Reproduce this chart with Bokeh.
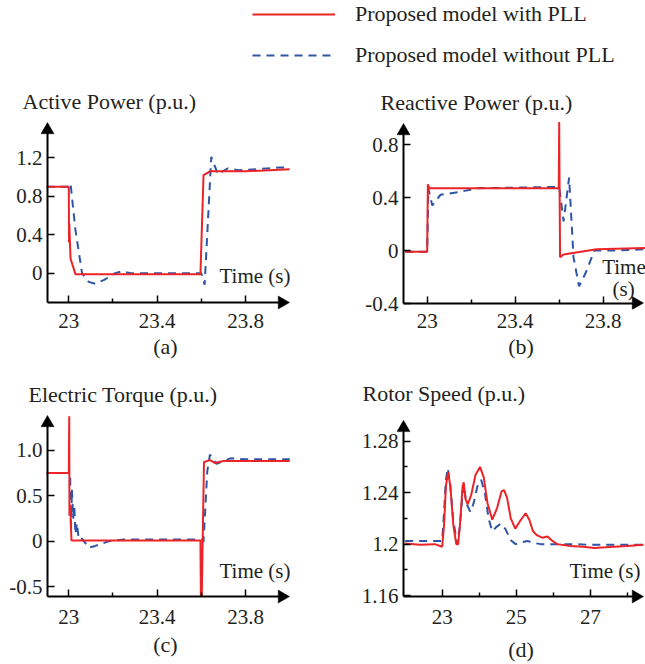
import math
from bokeh.plotting import figure
from bokeh.layouts import column, row
from bokeh.models import FixedTicker, Label, Legend, LegendItem, Range1d, LinearAxis
from bokeh.embed import file_html
from bokeh.resources import INLINE

RED = "#ec2327"
BLUE = "#2f56a6"
INK = "#231f20"
FONT = "Liberation Serif"

legend_labels = ["Proposed model with PLL", "Proposed model without PLL"]
captions = ["(a)", "(b)", "(c)", "(d)"]
titles = ["Active Power (p.u.)", "Reactive Power (p.u.)", "Electric Torque (p.u.)", "Rotor Speed (p.u.)"]

# ---------------- (a) Active power ----------------
a_t_pll = [22.9, 23.0, 23.001, 23.002, 23.008, 23.03, 23.596, 23.61, 23.64, 23.8, 24.0]
a_v_pll = [0.9, 0.9, 0.32, 0.52, 0.15, -0.01, -0.01, 1.02, 1.06, 1.06, 1.08]
a_t_nopll = [22.9, 23.005, 23.008, 23.03, 23.06, 23.09, 23.12, 23.16, 23.21, 23.24, 23.28,
             23.6, 23.615, 23.645, 23.675, 23.72, 23.77, 23.85, 23.95, 24.0]
a_v_nopll = [0.9, 0.9, 0.93, 0.45, 0.0, -0.09, -0.11, -0.07, 0.0, 0.02, 0.0,
             0.0, -0.12, 1.21, 1.03, 1.09, 1.07, 1.08, 1.1, 1.1]

# ---------------- (b) Reactive power ----------------
b_t_pll = [22.9, 23.0, 23.003, 23.01, 23.598, 23.6, 23.601, 23.604, 23.62, 23.77, 24.0]
b_v_pll = [-0.01, -0.01, 0.5, 0.47, 0.47, 0.97, 0.65, -0.05, -0.03, 0.01, 0.02]
b_t_nopll = [22.9, 23.0, 23.005, 23.023, 23.06, 23.14, 23.23, 23.6, 23.62, 23.645,
             23.665, 23.69, 23.72, 23.76, 23.85, 24.0]
b_v_nopll = [-0.01, -0.01, 0.47, 0.34, 0.42, 0.44, 0.47, 0.48, 0.22, 0.55,
             -0.05, -0.27, -0.17, 0.0, 0.0, 0.01]

# ---------------- (c) Electric torque ----------------
c_t_pll = [22.9, 23.0, 23.002, 23.003, 23.005, 23.008, 23.012, 23.596, 23.598, 23.602,
           23.612, 23.64, 23.66, 23.7, 24.0]
c_v_pll = [0.75, 0.75, 1.37, 0.28, 0.4, 0.3, 0.01, 0.01, -0.6, -0.6,
           0.87, 0.89, 0.86, 0.88, 0.88]
c_t_nopll = [22.9, 23.006, 23.01, 23.014, 23.02, 23.025, 23.03, 23.037, 23.045, 23.06,
             23.09, 23.12, 23.18, 23.25, 23.6, 23.61, 23.627, 23.639, 23.669, 23.732, 23.8, 24.0]
c_v_nopll = [0.75, 0.75, 0.1, 0.57, 0.25, 0.38, 0.08, 0.2, 0.02, 0.03,
             -0.07, -0.05, 0.0, 0.02, 0.02, 0.0, 0.77, 0.95, 0.85, 0.91, 0.9, 0.9]

# ---------------- (d) Rotor speed ----------------
d_t_pll = [22.0, 22.4, 22.8, 23.0, 23.05, 23.1, 23.16, 23.22, 23.3, 23.38, 23.43, 23.48,
           23.55, 23.58, 23.63, 23.69, 23.78, 23.9, 24.02, 24.12, 24.22, 24.35, 24.48,
           24.6, 24.67, 24.75, 24.85, 24.97, 25.1, 25.25, 25.35, 25.45, 25.55, 25.7,
           25.84, 25.95, 26.1, 26.46, 26.8, 27.1, 27.4, 27.64, 28.0, 28.43]
d_v_pll = [1.2005, 1.1995, 1.2, 1.198, 1.215, 1.245, 1.256, 1.245, 1.215, 1.2, 1.2, 1.215,
           1.245, 1.248, 1.235, 1.231, 1.238, 1.254, 1.26, 1.252, 1.232, 1.219, 1.228,
           1.241, 1.242, 1.236, 1.22, 1.212, 1.218, 1.224, 1.219, 1.21, 1.207, 1.205,
           1.206, 1.203, 1.2, 1.1985, 1.198, 1.197, 1.1975, 1.198, 1.1985, 1.1995]
d_t_nopll = [22.0, 23.0, 23.05, 23.1, 23.15, 23.22, 23.3, 23.41, 23.48, 23.55, 23.58,
             23.65, 23.76, 23.85, 23.95, 24.05, 24.15, 24.25, 24.35, 24.45, 24.58, 24.7,
             24.85, 24.98, 25.15, 25.3, 25.45, 25.66, 26.0, 26.5, 27.0, 28.43]
d_v_nopll = [1.2025, 1.2025, 1.225, 1.25, 1.259, 1.245, 1.218, 1.2, 1.215, 1.24, 1.246,
             1.232, 1.225, 1.232, 1.245, 1.25, 1.24, 1.22, 1.21, 1.213, 1.216, 1.212,
             1.203, 1.2, 1.2015, 1.2025, 1.201, 1.2, 1.2, 1.2, 1.1995, 1.1995]

# ---------------- ticks ----------------
ab_x_ticks = [23.0, 23.4, 23.8]
ab_x_labels = ["23", "23.4", "23.8"]
ab_x_minor = [23.2, 23.6]
a_y_ticks = [0.0, 0.4, 0.8, 1.2]
a_y_labels = ["0", "0.4", "0.8", "1.2"]
b_y_ticks = [-0.4, 0.0, 0.4, 0.8]
b_y_labels = ["-0.4", "0", "0.4", "0.8"]
c_y_ticks = [-0.5, 0.0, 0.5, 1.0]
c_y_labels = ["-0.5", "0", "0.5", "1.0"]
d_x_ticks = [23, 25, 27]
d_x_labels = ["23", "25", "27"]
d_x_minor = [24, 26, 28]
d_y_ticks = [1.16, 1.2, 1.24, 1.28]
d_y_labels = ["1.16", "1.2", "1.24", "1.28"]
d_y_minor = [1.18, 1.22, 1.26]

# ---------------- layout geometry (page pixels) ----------------
GEOM = {
    "a": dict(fig=(0, 75, 330, 290), frame=(40, 121, 290, 309),
              xcal=(68.3, 23.0, 245.0, 23.8), ycal=(157.3, 1.2, 272.7, 0.0),
              ax=47, ay=302, tx=289, ty=122),
    "b": dict(fig=(330, 75, 315, 290), frame=(396, 121, 645, 309),
              xcal=(426.7, 23.0, 602.7, 23.8), ycal=(144.0, 0.8, 250.0, 0.0),
              ax=403, ay=302.5, tx=643, ty=123),
    "c": dict(fig=(0, 365, 330, 299), frame=(40, 414, 290, 605),
              xcal=(68.3, 23.0, 245.0, 23.8), ycal=(450.0, 1.0, 588.3, -0.5),
              ax=47, ay=598, tx=289, ty=415),
    "d": dict(fig=(330, 365, 315, 299), frame=(396, 414, 645, 605),
              xcal=(441.7, 23.0, 590.0, 27.0), ycal=(441.0, 1.28, 545.0, 1.2),
              ax=403, ay=598, tx=643, ty=420),
}
HEAD = 13


def cal(p1, v1, p2, v2):
    k = (v2 - v1) / (p2 - p1)
    return lambda px: v1 + (px - p1) * k


def style_text_axis(axis, ticks, labels, standoff):
    axis.ticker = FixedTicker(ticks=ticks)
    axis.major_label_overrides = dict(zip(ticks, labels))
    axis.axis_line_color = None
    axis.major_tick_line_color = None
    axis.minor_tick_line_color = None
    axis.major_tick_in = 0
    axis.major_tick_out = 0
    axis.minor_tick_in = 0
    axis.minor_tick_out = 0
    axis.major_label_text_font = FONT
    axis.major_label_text_font_size = "21px"
    axis.major_label_text_color = INK
    axis.major_label_standoff = standoff


def style_line_axis(axis, ticks, minor, loc, bounds):
    axis.ticker = FixedTicker(ticks=ticks, minor_ticks=minor)
    axis.fixed_location = loc
    axis.bounds = bounds
    axis.axis_line_width = 2
    axis.axis_line_color = "black"
    axis.major_tick_line_width = 1.5
    axis.major_tick_line_color = "black"
    axis.major_tick_in = 7
    axis.major_tick_out = 0
    axis.minor_tick_in = 4
    axis.minor_tick_out = 0
    axis.minor_tick_line_width = 1.5
    axis.minor_tick_line_color = "black"
    axis.major_label_text_font_size = "0px"
    axis.major_label_text_alpha = 0
    axis.major_label_standoff = 0


def panel(g, xt, xl, xm, yt, yl, ym, title, toff, tstand, xstand, caption, cstand):
    fx = cal(*g["xcal"])
    fy = cal(*g["ycal"])
    L, T, R, B = g["frame"]
    X0, Y0, W, H = g["fig"]
    p = figure(width=W, height=H, x_range=Range1d(fx(L), fx(R)), y_range=Range1d(fy(B), fy(T)),
               output_backend="svg", toolbar_location=None,
               min_border_left=L - X0, min_border_right=X0 + W - R,
               min_border_top=T - Y0, min_border_bottom=Y0 + H - B)
    p.title.text = title
    p.title.text_font = FONT
    p.title.text_font_size = "22px"
    p.title.text_font_style = "normal"
    p.title.align = "left"
    p.title.offset = toff
    p.title.standoff = tstand
    p.title.text_color = INK
    p.outline_line_color = None
    p.grid.visible = False
    p.background_fill_color = "white"
    p.border_fill_color = "white"

    # text-only axes at the frame edges (tick labels and caption)
    xa = p.xaxis[0]
    ya = p.yaxis[0]
    style_text_axis(xa, xt, xl, xstand)
    style_text_axis(ya, yt, yl, -2)
    xa.axis_label = caption
    xa.axis_label_text_font = FONT
    xa.axis_label_text_font_size = "22px"
    xa.axis_label_text_font_style = "normal"
    xa.axis_label_text_color = INK
    xa.axis_label_standoff = cstand

    # drawn axes (lines and ticks) at the arrowed axis position
    ax_x = fx(g["ax"])
    ax_y = fy(g["ay"])
    off = HEAD / 2 * math.sqrt(3) * 2 / 3
    tip_cx = fx(g["tx"] - off)
    tip_cy = fy(g["ty"] + off)
    xl_axis = LinearAxis()
    yl_axis = LinearAxis()
    style_line_axis(xl_axis, xt, xm, ax_y, (ax_x, tip_cx))
    style_line_axis(yl_axis, yt, ym, ax_x, (ax_y, tip_cy))
    p.add_layout(xl_axis, "below")
    p.add_layout(yl_axis, "left")

    p.scatter([tip_cx], [ax_y], marker="triangle", size=HEAD, angle=-math.pi / 2,
              fill_color="black", line_color="black", line_width=0.5)
    p.scatter([ax_x], [tip_cy], marker="triangle", size=HEAD,
              fill_color="black", line_color="black", line_width=0.5)
    return p, fx, fy


def curves(p, t1, v1, t2, v2):
    p.line(t2, v2, line_color=BLUE, line_width=2, line_dash="8 6")
    p.line(t1, v1, line_color=RED, line_width=2)


def text_at(p, fx, fy, text, px, py, align, size="21px"):
    p.add_layout(Label(x=fx(px), y=fy(py), text=text, text_font=FONT, text_font_size=size,
                       text_color=INK, text_align=align, text_baseline="middle"))


# ---------------- legend figure ----------------
lg = figure(width=645, height=75, output_backend="svg", toolbar_location=None,
            min_border=0, x_range=Range1d(0, 1), y_range=Range1d(0, 1))
lg.axis.visible = False
lg.grid.visible = False
lg.outline_line_color = None
r1 = lg.line(a_t_pll, a_v_pll, line_color=RED, line_width=2)
r2 = lg.line(a_t_nopll, a_v_nopll, line_color=BLUE, line_width=2, line_dash="8 6")
leg = Legend(items=[LegendItem(label=legend_labels[0], renderers=[r1]),
                    LegendItem(label=legend_labels[1], renderers=[r2])],
             location=(252, 7), orientation="vertical", glyph_width=83, glyph_height=20,
             label_standoff=20, padding=0, margin=0, spacing=15,
             border_line_color=None, background_fill_alpha=0,
             label_text_font=FONT, label_text_font_size="22px", label_text_color=INK)
lg.add_layout(leg)

# ---------------- panels ----------------
fa, ax_, ay_ = panel(GEOM["a"], ab_x_ticks, ab_x_labels, ab_x_minor, a_y_ticks, a_y_labels, [],
                     titles[0], -18, 16, 4, captions[0], 3)
curves(fa, a_t_pll, a_v_pll, a_t_nopll, a_v_nopll)
text_at(fa, ax_, ay_, "Time (s)", 290, 275, "right")

fb, bx_, by_ = panel(GEOM["b"], ab_x_ticks, ab_x_labels, ab_x_minor, b_y_ticks, b_y_labels, [],
                     titles[1], -16, 13, 4, captions[1], 3)
curves(fb, b_t_pll, b_v_pll, b_t_nopll, b_v_nopll)
text_at(fb, bx_, by_, "Time", 601.7, 266.7, "left")
text_at(fb, bx_, by_, "(s)", 612, 288, "left")

fc, cx_, cy_ = panel(GEOM["c"], ab_x_ticks, ab_x_labels, ab_x_minor, c_y_ticks, c_y_labels, [],
                     titles[2], -12, 15, 6, captions[2], 5)
curves(fc, c_t_pll, c_v_pll, c_t_nopll, c_v_nopll)
text_at(fc, cx_, cy_, "Time (s)", 290, 571.7, "right")

fd, dx_, dy_ = panel(GEOM["d"], d_x_ticks, d_x_labels, d_x_minor, d_y_ticks, d_y_labels, d_y_minor,
                     titles[3], -34, 18, 6, captions[3], 10)
curves(fd, d_t_pll, d_v_pll, d_t_nopll, d_v_nopll)
text_at(fd, dx_, dy_, "Time (s)", 640, 571.7, "right")

layout = column(lg, row(fa, fb), row(fc, fd))

open("out.html", "w").write(file_html(layout, INLINE, title="chart"))
